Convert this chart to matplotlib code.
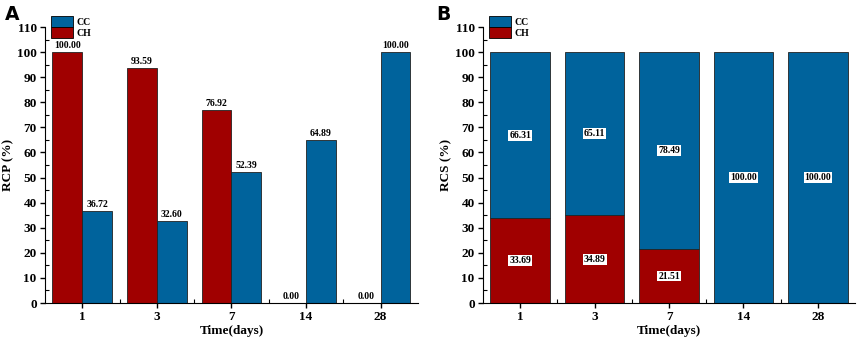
import numpy as np
import matplotlib as mpl
import matplotlib.pyplot as plt
from matplotlib.ticker import MultipleLocator, FixedLocator

days = ['1', '3', '7', '14', '28']
rcp_ch = [100.00, 93.59, 76.92, 0.00, 0.00]
rcp_cc = [36.72, 32.60, 52.39, 64.89, 100.00]
rcs_ch = [33.69, 34.89, 21.51, 0.0, 0.0]
rcs_cc = [66.31, 65.11, 78.49, 100.00, 100.00]

red = '#a00000'
blue = '#00639c'
serif = ['Liberation Serif', 'DejaVu Serif']

fig = plt.figure(figsize=(8.58, 3.42), dpi=100)
axA = fig.add_axes([0.0524, 0.114, 0.4347, 0.807])
axB = fig.add_axes([0.563, 0.114, 0.4336, 0.807])

x = np.arange(len(days))


def style_axis(ax, ylabel):
    ax.set_xlim(-0.5, 4.5)
    ax.set_ylim(0, 110)
    ax.spines['top'].set_visible(False)
    ax.spines['right'].set_visible(False)
    ax.yaxis.set_major_locator(MultipleLocator(10))
    ax.yaxis.set_minor_locator(MultipleLocator(5))
    ax.set_xticks(x)
    ax.set_xticklabels(days)
    ax.xaxis.set_minor_locator(FixedLocator(x[:-1] + 0.5))
    ax.tick_params(which='major', direction='out', length=3.5, width=1, pad=2.5)
    ax.tick_params(axis='y', which='minor', direction='in', length=3, width=0.8)
    ax.tick_params(axis='x', which='minor', direction='in', length=3, width=0.8)
    for lab in ax.get_xticklabels() + ax.get_yticklabels():
        lab.set_family(serif)
        lab.set_fontweight('bold')
        lab.set_fontsize(9.5)
    ax.set_xlabel('Time(days)', family=serif, fontweight='bold', fontsize=9.5, labelpad=1)
    ax.set_ylabel(ylabel, family=serif, fontweight='bold', fontsize=9.5, labelpad=2)
    ax.legend(handles=[mpl.patches.Patch(facecolor=blue, edgecolor='k', lw=0.6, label='CC'),
                       mpl.patches.Patch(facecolor=red, edgecolor='k', lw=0.6, label='CH')],
              loc='upper left', bbox_to_anchor=(0.0, 1.06), frameon=False,
              prop={'family': serif, 'weight': 'bold', 'size': 7},
              handlelength=2.3, handleheight=1.3, labelspacing=0.05,
              handletextpad=0.3, borderaxespad=0.2)


# Panel A: grouped bars
w = 0.4
b1 = axA.bar(x - w / 2, rcp_ch, w, color=red, edgecolor='#222222', lw=0.6)
b2 = axA.bar(x + w / 2, rcp_cc, w, color=blue, edgecolor='#222222', lw=0.6)
for bars, vals in [(b1, rcp_ch), (b2, rcp_cc)]:
    for rect, v in zip(bars, vals):
        axA.text(rect.get_x() + rect.get_width() / 2, v + 0.8, f'{v:.2f}',
                 ha='center', va='bottom', family=serif, fontweight='bold', fontsize=7)
style_axis(axA, 'RCP (%)')

# Panel B: stacked bars
wb = 0.8
axB.bar(x, rcs_ch, wb, color=red, edgecolor='#222222', lw=0.6)
axB.bar(x, rcs_cc, wb, bottom=rcs_ch, color=blue, edgecolor='#222222', lw=0.6)
box = dict(boxstyle='square,pad=0.1', facecolor='white', edgecolor='none')
for i in range(len(days)):
    if rcs_ch[i] > 0:
        axB.text(x[i], rcs_ch[i] / 2, f'{rcs_ch[i]:.2f}', ha='center', va='center',
                 family=serif, fontweight='bold', fontsize=7, bbox=box)
    axB.text(x[i], rcs_ch[i] + rcs_cc[i] / 2, f'{rcs_cc[i]:.2f}', ha='center', va='center',
             family=serif, fontweight='bold', fontsize=7, bbox=box)
style_axis(axB, 'RCS (%)')

fig.text(0.006, 0.985, 'A', fontsize=13.5, fontweight='bold', family='DejaVu Sans', va='top')
fig.text(0.509, 0.985, 'B', fontsize=13.5, fontweight='bold', family='DejaVu Sans', va='top')

fig.savefig('out.png', dpi=100)
